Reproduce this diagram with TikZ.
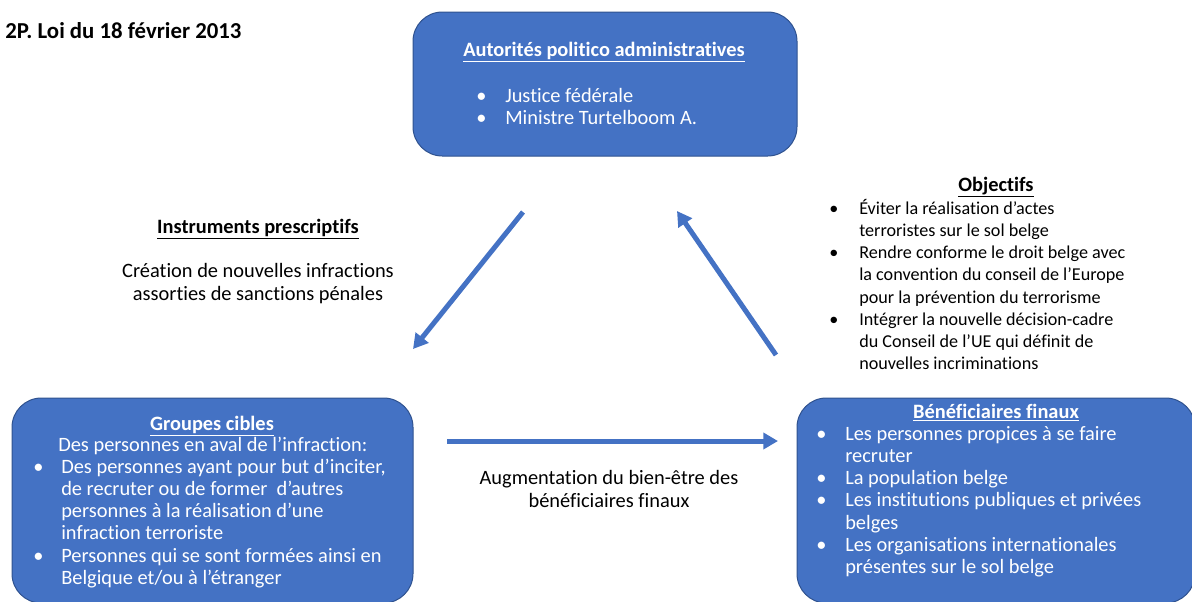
\documentclass[tikz,border=0pt]{standalone}
\usepackage{fontspec}
\setmainfont{Carlito}[Ligatures=NoCommon]
\usepackage{tikz}
\usetikzlibrary{positioning,arrows.meta}
\definecolor{boxblue}{RGB}{68,114,196}
\definecolor{boxline}{RGB}{47,82,143}

\begin{document}
\begin{tikzpicture}[x=0.75pt,y=0.75pt,yscale=-1,xscale=1,
  blk/.style={draw=boxline,fill=boxblue,line width=0.75pt,rounded corners=22pt,inner sep=0pt},
  txt/.style={font=\fontsize{15.3}{16.7}\selectfont,inner sep=0pt},
  smalltxt/.style={font=\fontsize{13.6}{16.7}\selectfont,inner sep=0pt},
  wtxt/.style={txt,text=white},
  flow/.style={draw=boxblue,line width=3.75pt,-{Triangle[length=11pt,width=12pt]}}]
  \useasboundingbox (0,0) rectangle (1192,601);

  %Shape: Rounded Rect
  \node[blk,minimum width=288pt,minimum height=108pt] (auth) at (605,84) {};
  %Shape: Rounded Rect
  \node[blk,minimum width=300.75pt,minimum height=153.75pt] (cibles) at (212.5,500.5) {};
  %Shape: Rounded Rect
  \node[blk,minimum width=298.5pt,minimum height=153.75pt] (benef) at (996,500.5) {};

  % Text Node
  \node[txt,anchor=base west,font=\fontsize{17.1}{20}\selectfont\bfseries] (titre) at (5,38) {2P. Loi du 18 février 2013};

  % Text Node
  \node[wtxt,anchor=base] (authT) at (604,56) {\underline{\textbf{Autorités politico administratives}}};
  \node[wtxt,anchor=base west] (authL) at (476,102) {\begin{tabular}[t]{@{}p{21.75pt}@{}l@{}}
    \textbullet & Justice fédérale\\
    \textbullet & Ministre Turtelboom A.
  \end{tabular}};

  % Text Node
  \node[txt,anchor=base] (instrT) at (258,233) {\underline{\textbf{Instruments prescriptifs}}};
  \node[txt,anchor=base,align=center] (instrL) at (258,300) {Création de nouvelles infractions\\assorties de sanctions pénales};

  % Text Node
  \node[txt,anchor=base] (objT) at (996,191) {\underline{\textbf{Objectifs}}};
  \node[smalltxt,anchor=base west] (objL) at (829,214) {\begin{tabular}[t]{@{}p{22.5pt}@{}l@{}}
    \textbullet & Éviter la réalisation d’actes\\
      & terroristes sur le sol belge\\
    \textbullet & Rendre conforme le droit belge avec\\
      & la convention du conseil de l’Europe\\
      & pour la prévention du terrorisme\\
    \textbullet & Intégrer la nouvelle décision-cadre\\
      & du Conseil de l’UE qui définit de\\
      & nouvelles incriminations
  \end{tabular}};

  % Text Node
  \node[wtxt,anchor=base] (ciblesT) at (212,430) {\underline{\textbf{Groupes cibles}}};
  \node[wtxt,anchor=base west] (ciblesS) at (58,451) {Des personnes en aval de l’infraction:};
  \node[wtxt,anchor=base west] (ciblesL) at (33,473) {\begin{tabular}[t]{@{}p{21pt}@{}l@{}}
    \textbullet & Des personnes ayant pour but d’inciter,\\
      & de recruter ou de former~ d’autres\\
      & personnes à la réalisation d’une\\
      & infraction terroriste\\
    \textbullet & Personnes qui se sont formées ainsi en\\
      & Belgique et/ou à l’étranger
  \end{tabular}};

  % Text Node
  \node[wtxt,anchor=base] (benefT) at (996,418) {\underline{\textbf{Bénéficiaires finaux}}};
  \node[wtxt,anchor=base west] (benefL) at (816,440) {\begin{tabular}[t]{@{}p{21.75pt}@{}l@{}}
    \textbullet & Les personnes propices à se faire\\
      & recruter\\
    \textbullet & La population belge\\
    \textbullet & Les institutions publiques et privées\\
      & belges\\
    \textbullet & Les organisations internationales\\
      & présentes sur le sol belge
  \end{tabular}};

  % Text Node
  \node[txt,anchor=base,align=center] (augm) at (609,507) {Augmentation du bien-être des\\bénéficiaires finaux};

  %Straight Lines
  \coordinate (a1s) at (523,212);
  \coordinate (a1e) at (413,349);
  \coordinate (a2s) at (776,355);
  \coordinate (a2e) at (677,211);
  \coordinate (a3s) at (447,441);
  \coordinate (a3e) at (778,441);
  \draw[flow] (a1s) -- (a1e);
  \draw[flow] (a2s) -- (a2e);
  \draw[flow] (a3s) -- (a3e);
\end{tikzpicture}
\end{document}
